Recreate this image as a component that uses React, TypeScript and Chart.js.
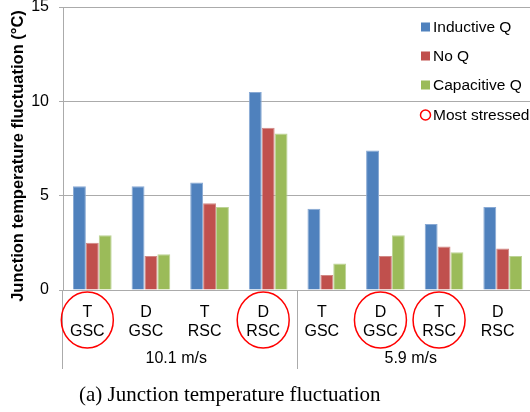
import React, { useEffect, useRef } from 'react';
import { Chart, registerables } from 'chart.js';

Chart.register(...registerables);

const categories: string[][] = [
  ['T', 'GSC'], ['D', 'GSC'], ['T', 'RSC'], ['D', 'RSC'],
  ['T', 'GSC'], ['D', 'GSC'], ['T', 'RSC'], ['D', 'RSC'],
];
const groupLabels = ['10.1 m/s', '5.9 m/s'];
const groupSizes = [4, 4];
const seriesNames = ['Inductive Q', 'No Q', 'Capacitive Q'];
const inductiveQ = [5.5, 5.5, 5.7, 10.5, 4.3, 7.4, 3.5, 4.4];
const noQ = [2.5, 1.8, 4.6, 8.6, 0.8, 1.8, 2.3, 2.2];
const capacitiveQ = [2.9, 1.9, 4.4, 8.3, 1.4, 2.9, 2.0, 1.8];
const mostStressed = [0, 3, 5, 6];
const mostStressedLabel = 'Most stressed';
const yTitle = 'Junction temperature fluctuation (°C)';
const caption = '(a) Junction temperature fluctuation';
const yMin = 0;
const yMax = 15;
const yStep = 5;

const colors = ['#4F81BD', '#C0504D', '#9BBB59'];
const borderColors = ['#88A9D4', '#D18885', '#BCD396'];
const SANS = '"Liberation Sans", Arial, sans-serif';
const SERIF = '"Liberation Serif", "Times New Roman", serif';
const LABEL_OFFSET = -5;

const overlayPlugin = {
  id: 'overlay',
  afterDraw(chart: any) {
    const ctx = chart.ctx as CanvasRenderingContext2D;
    const area = chart.chartArea;
    const xs = chart.scales.x;
    const catW = (area.right - area.left) / categories.length;
    ctx.save();

    // group separators
    ctx.strokeStyle = '#ABABAB';
    ctx.lineWidth = 1;
    let idx = 0;
    const bounds: number[] = [area.left];
    groupSizes.forEach((n) => { idx += n; bounds.push(area.left + idx * catW); });
    bounds.forEach((b) => {
      const x = Math.round(b) - 0.5;
      ctx.beginPath();
      ctx.moveTo(x, area.bottom);
      ctx.lineTo(x, area.bottom + 79);
      ctx.stroke();
    });

    // group labels
    ctx.fillStyle = '#000';
    ctx.font = `16px ${SANS}`;
    ctx.textAlign = 'center';
    ctx.textBaseline = 'middle';
    groupLabels.forEach((g, i) => {
      const cx = (bounds[i] + bounds[i + 1]) / 2 + LABEL_OFFSET + 1;
      ctx.fillText(g, cx, area.bottom + 69);
    });

    // most-stressed circles
    ctx.strokeStyle = '#FF0000';
    ctx.lineWidth = 1.5;
    mostStressed.forEach((i) => {
      const cx = xs.getPixelForValue(i) + LABEL_OFFSET;
      ctx.beginPath();
      ctx.ellipse(cx, area.bottom + 30, 26, 28, 0, 0, Math.PI * 2);
      ctx.stroke();
    });

    // legend
    ctx.textAlign = 'left';
    ctx.font = `15.5px ${SANS}`;
    const lx = 421;
    const rows = [27, 56, 85, 115];
    seriesNames.forEach((name, i) => {
      ctx.fillStyle = colors[i];
      ctx.fillRect(lx, rows[i] - 4.5, 9, 9);
      ctx.fillStyle = '#000';
      ctx.fillText(name, lx + 12, rows[i] + 1);
    });
    ctx.strokeStyle = '#FF0000';
    ctx.lineWidth = 1.5;
    ctx.beginPath();
    ctx.arc(lx + 4.5, rows[3], 5, 0, Math.PI * 2);
    ctx.stroke();
    ctx.fillStyle = '#000';
    ctx.fillText(mostStressedLabel, lx + 12, rows[3] + 1);

    // y title
    ctx.save();
    ctx.translate(18, 156);
    ctx.rotate(-Math.PI / 2);
    ctx.font = `bold 16.5px ${SANS}`;
    ctx.textAlign = 'center';
    ctx.textBaseline = 'middle';
    ctx.fillText(yTitle, 0, 0);
    ctx.restore();

    // caption
    ctx.font = `21px ${SERIF}`;
    ctx.textAlign = 'left';
    ctx.textBaseline = 'middle';
    ctx.fillText(caption, 79, 395);
    ctx.restore();
  },
};

export default function App() {
  const ref = useRef<HTMLCanvasElement | null>(null);
  useEffect(() => {
    if (!ref.current) return;
    const series = [inductiveQ, noQ, capacitiveQ];
    const chart = new Chart(ref.current, {
      type: 'bar',
      data: {
        labels: categories,
        datasets: series.map((d, i) => ({
          label: seriesNames[i],
          data: d,
          backgroundColor: colors[i],
          borderColor: borderColors[i],
          borderWidth: 1,
          categoryPercentage: 0.66,
          barPercentage: 1.0,
        })),
      },
      options: {
        responsive: false,
        animation: false,
        layout: { padding: { top: 7, right: 1, left: 0, bottom: 0 } },
        plugins: { legend: { display: false }, tooltip: { enabled: false } },
        scales: {
          x: {
            grid: { display: false },
            border: { display: false },
            ticks: {
              color: '#000',
              font: { family: SANS, size: 16 },
              padding: 5,
              labelOffset: LABEL_OFFSET,
              maxRotation: 0,
              autoSkip: false,
            },
            afterFit(scale: any) {
              scale.height = 122;
              scale.paddingLeft = 0;
              scale.paddingRight = 0;
            },
          },
          y: {
            min: yMin,
            max: yMax,
            grid: { color: '#ABABAB', drawTicks: true, tickLength: 4 },
            border: { display: true, color: '#ABABAB' },
            ticks: {
              stepSize: yStep,
              color: '#000',
              font: { family: SANS, size: 16 },
              padding: 10,
            },
            afterFit(scale: any) {
              scale.width = 63;
              scale.paddingTop = 0;
              scale.paddingBottom = 0;
            },
          },
        },
      },
      plugins: [overlayPlugin],
    });
    return () => chart.destroy();
  }, []);
  return (
    <div style={{ position: 'absolute', left: 0, top: 0, width: 530, height: 412, overflow: 'hidden', background: '#fff' }}>
      <canvas ref={ref} width={533} height={412} />
    </div>
  );
}
